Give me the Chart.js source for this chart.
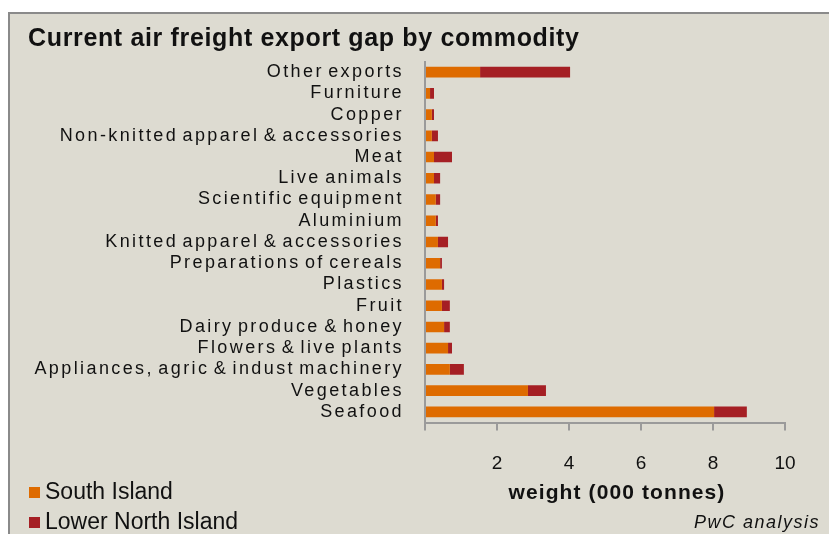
<!DOCTYPE html>
<html>
<head>
<meta charset="utf-8">
<script src="https://cdn.jsdelivr.net/npm/chart.js@4.4.1/dist/chart.umd.min.js"></script>
<style>
  html, body { margin: 0; padding: 0; background: #fff; }
  #wrap { width: 829px; height: 534px; }
</style>
</head>
<body>
<div id="wrap"><canvas id="freightChart" width="829" height="534"></canvas></div>
<script>
// Commodities, top to bottom as in the chart
const commodities = [
  'Other exports',
  'Furniture',
  'Copper',
  'Non-knitted apparel & accessories',
  'Meat',
  'Live animals',
  'Scientific equipment',
  'Aluminium',
  'Knitted apparel & accessories',
  'Preparations of cereals',
  'Plastics',
  'Fruit',
  'Dairy produce & honey',
  'Flowers & live plants',
  'Appliances, agric & indust machinery',
  'Vegetables',
  'Seafood'
];

// weight, 000 tonnes
const southIsland = [1.53, 0.14, 0.19, 0.19, 0.25, 0.25, 0.30, 0.30, 0.36, 0.42, 0.47, 0.47, 0.53, 0.64, 0.69, 2.86, 8.03];
const lowerNorthIsland = [2.50, 0.11, 0.06, 0.17, 0.50, 0.17, 0.12, 0.06, 0.28, 0.05, 0.06, 0.22, 0.16, 0.11, 0.39, 0.50, 0.91];

const xTicks = [0, 2, 4, 6, 8, 10];

const ORANGE = '#DE6B00';
const RED = '#A51F24';
const AXIS = '#9a9a9a';
const FONT = "'Liberation Sans', Arial, sans-serif";

// draws a line of text with some letter spacing
const drawText = (ctx, text, x, y, font, spacing, align) => {
  ctx.save();
  ctx.font = font;
  ctx.letterSpacing = spacing + 'px';
  ctx.textAlign = align || 'left';
  ctx.textBaseline = 'middle';
  ctx.fillStyle = '#111';
  ctx.fillText(text, x, y);
  ctx.restore();
};

// Background box, title, legend and notes
const framePlugin = {
  id: 'frame',
  afterLayout(chart) {
    // wider letter spacing (but tight word gaps) on the category labels, like the original
    const ys = chart.scales.y;
    if (!ys._spaced) {
      const orig = ys.drawLabels;
      ys.drawLabels = function (area) {
        chart.ctx.save();
        chart.ctx.letterSpacing = '2.4px';
        chart.ctx.wordSpacing = '-3px';
        orig.call(this, area);
        chart.ctx.restore();
      };
      ys._spaced = true;
    }
  },
  beforeDraw(chart) {
    const ctx = chart.ctx;
    ctx.save();
    ctx.fillStyle = '#fff';
    ctx.fillRect(0, 0, chart.width, chart.height);
    ctx.fillStyle = '#DDDBD1';
    ctx.fillRect(8, 13, chart.width, chart.height);
    ctx.strokeStyle = '#8a8a8a';
    ctx.lineWidth = 2;
    ctx.strokeRect(9, 13, chart.width + 10, chart.height + 10);
    ctx.restore();
  },
  afterDraw(chart) {
    const ctx = chart.ctx;
    drawText(ctx, 'Current air freight export gap by commodity', 28, 39, 'bold 25px ' + FONT, 0.65);
    drawText(ctx, 'weight (000 tonnes)', 617, 493, 'bold 21px ' + FONT, 1.1, 'center');

    // legend
    ctx.save();
    ctx.fillStyle = ORANGE;
    ctx.fillRect(29, 487, 11, 11);
    ctx.fillStyle = RED;
    ctx.fillRect(29, 517, 11, 11);
    ctx.restore();
    drawText(ctx, 'South Island', 45, 493, '23px ' + FONT, 0);
    drawText(ctx, 'Lower North Island', 45, 523, '23px ' + FONT, 0);

    drawText(ctx, 'PwC analysis', 820, 523, 'italic 18px ' + FONT, 1.5, 'right');
  }
};

const ctx = document.getElementById('freightChart').getContext('2d');
const freightChart = new Chart(ctx, {
  type: 'bar',
  data: {
    labels: commodities,
    datasets: [
      {
        label: 'South Island',
        data: southIsland,
        backgroundColor: ORANGE,
        barPercentage: 0.5,
        categoryPercentage: 1,
      },
      {
        label: 'Lower North Island',
        data: lowerNorthIsland,
        backgroundColor: RED,
        barPercentage: 0.5,
        categoryPercentage: 1,
      },
    ],
  },
  options: {
    indexAxis: 'y',
    responsive: false,
    animation: false,
    devicePixelRatio: 1,
    layout: { padding: { top: 61.5, right: 44, bottom: 0, left: 0 } },
    plugins: {
      legend: { display: false },
      tooltip: { enabled: false },
    },
    scales: {
      x: {
        stacked: true,
        min: 0,
        max: 10,
        afterBuildTicks: (scale) => { scale.ticks = xTicks.map((v) => ({ value: v })); },
        afterFit: (scale) => { scale.height = 534 - 422.5; },
        grid: { drawOnChartArea: false, drawTicks: true, tickLength: 8, color: AXIS, lineWidth: 2 },
        border: { display: true, color: AXIS, width: 2 },
        ticks: {
          color: '#111',
          padding: 22,
          font: { family: FONT, size: 19 },
          callback: (v) => (v === 0 ? '' : v),
        },
      },
      y: {
        stacked: true,
        afterFit: (scale) => { scale.width = 425; },
        grid: { drawOnChartArea: false, drawTicks: false },
        border: { display: true, color: AXIS, width: 2 },
        ticks: {
          color: '#111',
          padding: 21,
          autoSkip: false,
          font: { family: FONT, size: 18 },
        },
      },
    },
  },
  plugins: [framePlugin],
});
</script>
</body>
</html>
